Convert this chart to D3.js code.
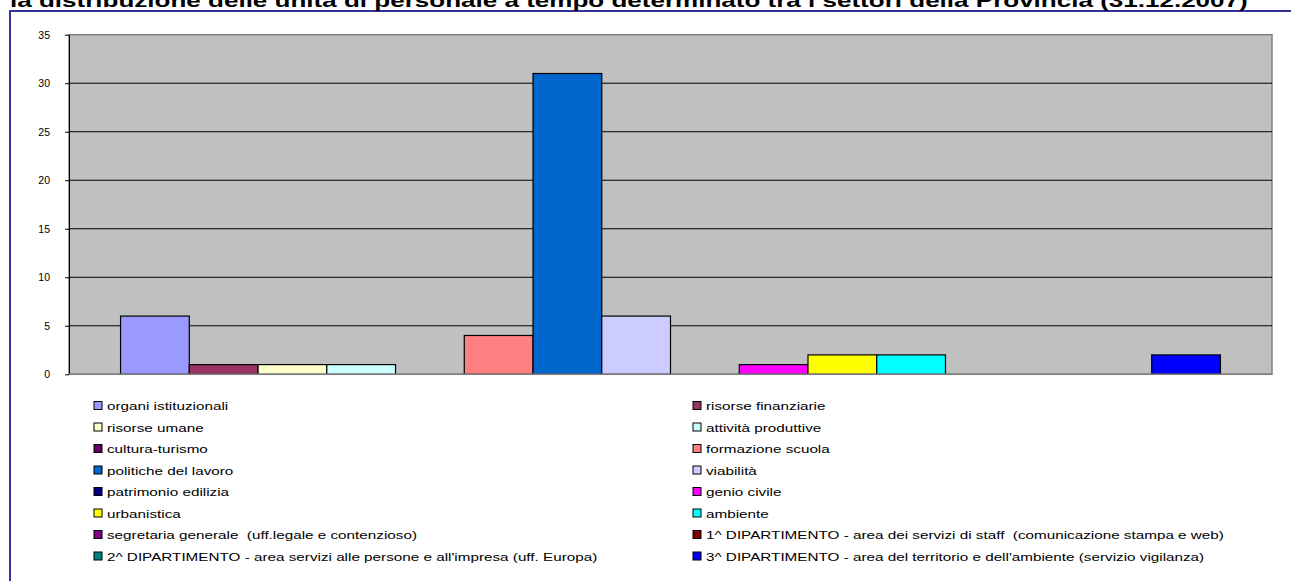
<!DOCTYPE html>
<html lang="it">

<head>
    <meta charset="UTF-8">
    <title>Personale a tempo determinato</title>

    <script src="https://d3js.org/d3.v7.min.js"></script>

    <style>
        body {
            margin: 0;
            background: #ffffff;
        }

        text {
            font-family: "Liberation Sans", Arial, sans-serif;
        }

        .leg_text {
            white-space: pre;
        }
    </style>

</head>


<body>
    <svg width="1291" height="581"></svg>

    <script>

        const titleText = "la distribuzione delle unità di personale a tempo determinato tra i settori della Provincia (31.12.2007)";

        const settori = ["organi istituzionali", "risorse finanziarie", "risorse umane", "attività produttive",
            "cultura-turismo", "formazione scuola", "politiche del lavoro", "viabilità",
            "patrimonio edilizia", "genio civile", "urbanistica", "ambiente",
            "segretaria generale  (uff.legale e contenzioso)",
            "1^ DIPARTIMENTO - area dei servizi di staff  (comunicazione stampa e web)",
            "2^ DIPARTIMENTO - area servizi alle persone e all'impresa (uff. Europa)",
            "3^ DIPARTIMENTO - area del territorio e dell'ambiente (servizio vigilanza)"];

        const unita = [6, 1, 1, 1, 0, 4, 31, 6, 0, 1, 2, 2, 0, 0, 0, 2];

        const colori = ["#9999FF", "#993366", "#FFFFCC", "#CCFFFF", "#660066", "#FF8080", "#0066CC", "#CCCCFF",
            "#000080", "#FF00FF", "#FFFF00", "#00FFFF", "#800080", "#800000", "#008080", "#0000FF"];

        const yTicks = [0, 5, 10, 15, 20, 25, 30, 35];

        // text in the original is stretched horizontally
        const sx = 1.4;

        let svg = d3.select("svg");

        const plot = { left: 69, right: 1272, top: 34.7, bottom: 374.3 };

        // outer frame
        svg.append("rect")
            .attr("x", 10).attr("y", 11)
            .attr("width", 1320).attr("height", 620)
            .attr("fill", "none")
            .attr("stroke", "#333399")
            .attr("stroke-width", 2);

        // title, cut at the top of the picture
        svg.append("g")
            .attr("transform", "translate(10,7) scale(" + sx + ",1)")
            .append("text")
            .attr("font-size", "18.6px")
            .attr("font-weight", "bold")
            .attr("fill", "#000")
            .text(titleText);

        let x = d3.scaleBand()
            .domain(settori)
            .range([plot.left, plot.right])
            .paddingInner(0)
            .paddingOuter(0.75);

        let y = d3.scaleLinear()
            .domain([0, 35])
            .range([plot.bottom, plot.top]);

        // plot area
        svg.append("rect")
            .attr("x", plot.left).attr("y", plot.top)
            .attr("width", plot.right - plot.left)
            .attr("height", plot.bottom - plot.top)
            .attr("fill", "#C0C0C0")
            .attr("stroke", "#808080")
            .attr("stroke-width", 1.5);

        // gridlines
        svg.append("g")
            .selectAll("line")
            .data(yTicks.filter(t => t > 0 && t < 35))
            .enter()
            .append("line")
            .attr("x1", plot.left).attr("x2", plot.right)
            .attr("y1", d => y(d)).attr("y2", d => y(d))
            .attr("stroke", "#000")
            .attr("stroke-width", 1);

        // y axis
        let yAxis = svg.append("g")
            .attr("transform", "translate(" + plot.left + ",0)")
            .call(d3.axisLeft(y).tickValues(yTicks).tickSize(4).tickPadding(15).tickSizeOuter(0));
        yAxis.select(".domain").attr("stroke", "#000");
        yAxis.selectAll(".tick line").attr("stroke", "#000");
        yAxis.selectAll("text")
            .attr("font-family", "Liberation Sans, Arial, sans-serif")
            .attr("font-size", "10.5px")
            .attr("fill", "#000");

        // bars
        svg.append("g")
            .selectAll("rect")
            .data(settori.map((s, i) => ({ nome: s, valore: unita[i], colore: colori[i] })).filter(d => d.valore > 0))
            .enter()
            .append("rect")
            .attr("x", d => x(d.nome))
            .attr("y", d => y(d.valore))
            .attr("width", x.bandwidth())
            .attr("height", d => y(0) - y(d.valore))
            .attr("fill", d => d.colore)
            .attr("stroke", "#000")
            .attr("stroke-width", 1.2);

        // x axis line
        svg.append("line")
            .attr("x1", plot.left).attr("x2", plot.right)
            .attr("y1", y(0)).attr("y2", y(0))
            .attr("stroke", "#808080")
            .attr("stroke-width", 1.5);

        // legend, two columns
        const legCols = [94, 693];
        const legTop = 406, legStep = 21.5;

        let leg = svg.append("g")
            .selectAll("g")
            .data(settori)
            .enter()
            .append("g")
            .attr("transform", (d, i) => "translate(" + legCols[i % 2] + "," + (legTop + Math.floor(i / 2) * legStep) + ")");

        leg.append("rect")
            .attr("x", 0).attr("y", -4.5)
            .attr("width", 8).attr("height", 8)
            .attr("fill", (d, i) => colori[i])
            .attr("stroke", "#000")
            .attr("stroke-width", 1);

        leg.append("g")
            .attr("transform", "translate(13,4) scale(" + sx + ",1)")
            .append("text")
            .attr("class", "leg_text")
            .attr("font-size", "10.9px")
            .attr("fill", "#000")
            .text(d => d);

    </script>
</body>

</html>
